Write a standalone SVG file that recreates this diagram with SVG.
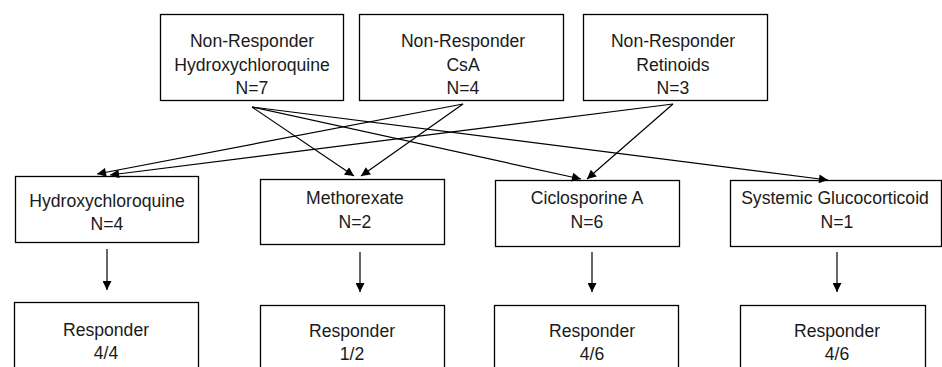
<svg xmlns="http://www.w3.org/2000/svg" width="942" height="367" viewBox="0 0 942 367">
<defs>
<marker id="ah" viewBox="0 0 10 10" refX="10" refY="5" markerWidth="10" markerHeight="9" markerUnits="userSpaceOnUse" orient="auto">
<path d="M0,0 L10,5 L0,10 z" fill="#000"/>
</marker>
<style>
.box{fill:#fff;stroke:#000;stroke-width:1.3}
.t{font-family:"Liberation Sans",Arial,sans-serif;font-size:17.6px;fill:#1a1a1a;text-anchor:middle}
.c{stroke:#000;stroke-width:1.2;fill:none;marker-end:url(#ah)}
</style>
</defs>
<rect width="942" height="367" fill="#fff"/>
<g id="nr-hcq">
<rect class="box" x="160.5" y="14.5" width="183" height="86"/>
<text class="t" x="252" y="47">Non-Responder</text>
<text class="t" x="252" y="71">Hydroxychloroquine</text>
<text class="t" x="252" y="94">N=7</text>
</g>
<g id="nr-csa">
<rect class="box" x="359.5" y="14.5" width="204" height="86"/>
<text class="t" x="463" y="47">Non-Responder</text>
<text class="t" x="463" y="71">CsA</text>
<text class="t" x="463" y="94">N=4</text>
</g>
<g id="nr-ret">
<rect class="box" x="583.5" y="14.5" width="184" height="86"/>
<text class="t" x="673" y="47">Non-Responder</text>
<text class="t" x="673" y="71">Retinoids</text>
<text class="t" x="673" y="94">N=3</text>
</g>
<g id="hcq">
<rect class="box" x="15.5" y="176.5" width="183" height="66"/>
<text class="t" x="107" y="207">Hydroxychloroquine</text>
<text class="t" x="107" y="230">N=4</text>
</g>
<g id="mtx">
<rect class="box" x="260.5" y="179.5" width="184" height="65"/>
<text class="t" x="355" y="204">Methorexate</text>
<text class="t" x="355" y="228">N=2</text>
</g>
<g id="csa">
<rect class="box" x="495.5" y="180.5" width="184" height="66"/>
<text class="t" x="587" y="204">Ciclosporine A</text>
<text class="t" x="587" y="228">N=6</text>
</g>
<g id="gc">
<rect class="box" x="730.5" y="180.5" width="211" height="66"/>
<text class="t" x="835" y="204">Systemic Glucocorticoid</text>
<text class="t" x="837" y="228">N=1</text>
</g>
<g id="r-hcq">
<rect class="box" x="14.5" y="302.5" width="184" height="70"/>
<text class="t" x="106" y="336">Responder</text>
<text class="t" x="106" y="359">4/4</text>
</g>
<g id="r-mtx">
<rect class="box" x="260.5" y="305.5" width="184" height="70"/>
<text class="t" x="352" y="337">Responder</text>
<text class="t" x="352" y="360">1/2</text>
</g>
<g id="r-csa">
<rect class="box" x="494.5" y="305.5" width="184" height="70"/>
<text class="t" x="592" y="337">Responder</text>
<text class="t" x="592" y="360">4/6</text>
</g>
<g id="r-gc">
<rect class="box" x="740.5" y="305.5" width="185" height="70"/>
<text class="t" x="837" y="337">Responder</text>
<text class="t" x="837" y="360">4/6</text>
</g>
<g id="connectors">
<line class="c" x1="252" y1="107" x2="354" y2="176"/>
<line class="c" x1="252" y1="107" x2="581" y2="179"/>
<line class="c" x1="252" y1="107" x2="828" y2="180"/>
<line class="c" x1="463" y1="104" x2="97" y2="174"/>
<line class="c" x1="463" y1="104" x2="361" y2="176"/>
<line class="c" x1="673" y1="104" x2="110" y2="175"/>
<line class="c" x1="673" y1="104" x2="587" y2="179"/>
<line class="c" x1="107" y1="249" x2="107" y2="290"/>
<line class="c" x1="360" y1="252" x2="360" y2="292"/>
<line class="c" x1="592" y1="252" x2="592" y2="292"/>
<line class="c" x1="837" y1="252" x2="837" y2="292"/>
</g>
</svg>
